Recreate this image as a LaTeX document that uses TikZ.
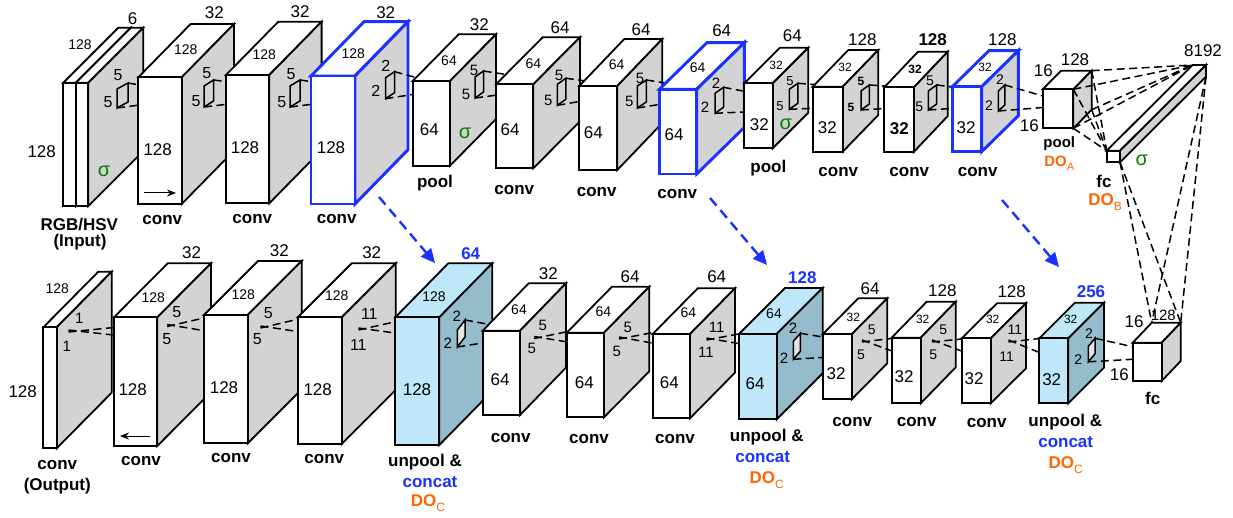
\documentclass[tikz,border=0pt]{standalone}
\usepackage{fontspec}
\setmainfont{Liberation Sans}
\usetikzlibrary{arrows.meta,calc}
\definecolor{sidegray}{RGB}{211,211,211}
\definecolor{bblue}{RGB}{25,50,255}
\definecolor{lblue}{RGB}{190,232,250}
\definecolor{dblue}{RGB}{148,188,204}
\definecolor{orng}{RGB}{255,102,0}
\definecolor{sgreen}{RGB}{0,128,0}
\definecolor{kfill}{RGB}{228,228,228}
\newcommand\myfs[1]{\fontsize{#1}{#1}\selectfont}
\newcommand\DOsub[3]{{\bfseries\myfs{#1}DO}\raisebox{-0.28em}{\myfs{#2}#3}}
\newcommand\mylab[5]{\node[#2] (#1) at (#3,#4) {#5};}
\newcommand\cubedef[7]{%
 \coordinate (#1-ftl) at (#2,#3);
 \coordinate (#1-ftr) at (#4,#3);
 \coordinate (#1-fbr) at (#4,#5);
 \coordinate (#1-fbl) at (#2,#5);
 \coordinate (#1-btl) at ($(#1-ftl)+(#6,-#7)$);
 \coordinate (#1-btr) at ($(#1-ftr)+(#6,-#7)$);
 \coordinate (#1-bbr) at ($(#1-fbr)+(#6,-#7)$);}
\newcommand\cubedraw[2]{%
 \path[#2front] (#1-ftl) -- (#1-ftr) -- (#1-btr) -- (#1-btl) -- cycle;
 \path[#2side] (#1-ftr) -- (#1-btr) -- (#1-bbr) -- (#1-fbr) -- cycle;
 \path[#2front] (#1-ftl) rectangle (#1-fbr);}
\newcommand\kpar[7]{%
 \coordinate (#1-ktr) at ({#2+#4},#3);
 \coordinate (#1-kbl) at (#2,{#3+#5+#6});
 \path[#7] (#2,{#3+#5}) -- (#1-ktr) -- ++(0,#6) -- (#1-kbl) -- cycle;}
\newcommand\kcross[5]{% name, next, offset1, offset2 ; start coordinate #1-k
 \draw[dl] ($(#1-k)+(0,1)$) -- ($(#2-ftl)+(#3)$);
 \draw[dl] ($(#1-k)+(0,-1)$) -- ($(#2-ftl)+(#4)$);}
\tikzset{
 plainfront/.style={draw=black, line width=1.8pt, fill=white, line join=miter},
 plainside/.style={draw=black, line width=1.8pt, fill=sidegray, line join=miter},
 bluefront/.style={draw=bblue, line width=2.9pt, fill=white, line join=miter},
 blueside/.style={draw=bblue, line width=2.9pt, fill=sidegray, line join=miter},
 unpfront/.style={draw=black, line width=1.8pt, fill=lblue, line join=miter},
 unpside/.style={draw=black, line width=1.8pt, fill=dblue, line join=miter},
 kp/.style={draw=black, line width=1.5pt},
 kpf/.style={draw=black, line width=1.5pt, fill=kfill},
 dl/.style={draw=black, line width=1.5pt, dash pattern=on 8pt off 4.5pt},
 barrow/.style={draw=bblue, line width=2.4pt, dash pattern=on 10pt off 6pt, -{Triangle[length=14pt,width=13pt]}},
 sarrow/.style={draw=black, line width=1pt, -{Stealth[length=9pt,width=7pt]}},
 fz/.style={font=\myfs{#1}, inner sep=0pt},
 bz/.style={font=\bfseries\myfs{#1}, inner sep=0pt},
 sig/.style={font=\myfs{20}, text=sgreen, inner sep=0pt},
}
\begin{document}
\begin{tikzpicture}[x=1pt,y=-1pt]
\useasboundingbox (0,0) rectangle (1233,518);
\fill[white] (0,0) rectangle (1233,518);
% ---------- coordinates of boxes ----------
\cubedef{T0a}{63.3}{82.7}{76}{206}{55}{55}
\cubedef{T0}{76}{82.7}{88.3}{206}{55}{55}
\cubedef{T1}{138.3}{77.3}{181.7}{204}{52.3}{53.3}
\cubedef{T2}{226}{75}{269.3}{203.3}{52.3}{53.3}
\cubedef{T3}{311}{76}{355}{204}{53}{54.3}
\cubedef{T4}{412.7}{81}{450}{165.7}{46}{46.7}
\cubedef{T5}{496}{84.3}{533.3}{168.3}{46.7}{47}
\cubedef{T6}{579.3}{86}{617.3}{170}{45}{47}
\cubedef{T7}{659.3}{89.3}{696.7}{174}{47.6}{46.6}
\cubedef{T8}{744.3}{83.3}{772.7}{148.3}{35.6}{35.6}
\cubedef{T9}{812.7}{86.7}{842.7}{151.7}{35.6}{36.7}
\cubedef{T10}{884.3}{87.3}{914}{151.7}{33.7}{35.6}
\cubedef{T11}{952.3}{86.7}{981.7}{151.7}{36.6}{36}
\cubedef{T12}{1042.7}{89.3}{1073.3}{128.3}{18.4}{18.6}
\cubedef{FCB}{1106.7}{150.7}{1120}{162.3}{86}{85.7}
\cubedef{B0}{43.3}{327.3}{56.7}{448.3}{55}{55.6}
\cubedef{B1}{114}{317.3}{157.3}{446}{53.7}{54}
\cubedef{B2}{204}{315}{247.7}{443.3}{54}{54}
\cubedef{B3}{297.7}{317.3}{341.7}{444}{54}{54}
\cubedef{B4}{395.3}{317.3}{439.3}{445}{53}{54}
\cubedef{B5}{482.7}{330.7}{520}{415}{46}{47.4}
\cubedef{B6}{566.7}{332.7}{604}{417.3}{45.3}{46}
\cubedef{B7}{652.7}{334}{690}{418.3}{45}{45.7}
\cubedef{B8}{739}{334}{776.7}{419.3}{46}{46}
\cubedef{B9}{822.7}{334.3}{851.7}{399.3}{35.6}{36}
\cubedef{B10}{891.7}{337.7}{920.7}{403.3}{35}{36}
\cubedef{B11}{961.7}{338.3}{990.7}{403.3}{35.3}{35}
\cubedef{B12}{1039.3}{338.3}{1068.3}{403.3}{35.7}{35.6}
\cubedef{B13}{1132.7}{342.7}{1161.7}{381}{19}{20}
% ---------- top row ----------
\cubedraw{T0a}{plain}
\cubedraw{T0}{plain}
\kpar{T0}{117}{83}{11}{6}{19}{kp}
\draw[dl] (T0-ktr) -- ($(T1-ftl)+(3,8)$);
\draw[dl] (T0-kbl) -- ($(T1-ftl)+(3,27.5)$);
\cubedraw{T1}{plain}
\kpar{T1}{204}{80}{9.5}{6}{21}{kp}
\draw[dl] (T1-ktr) -- ($(T2-ftl)+(3,7)$);
\draw[dl] (T1-kbl) -- ($(T2-ftl)+(3,29)$);
\cubedraw{T2}{plain}
\kpar{T2}{290}{80}{10}{6}{21}{kp}
\draw[dl] (T2-ktr) -- ($(T3-ftl)+(3,6)$);
\draw[dl] (T2-kbl) -- ($(T3-ftl)+(3,28)$);
\cubedraw{T3}{blue}
\kpar{T3}{385.5}{71.7}{9}{6}{21}{kp}
\draw[dl] (T3-ktr) -- ($(T4-ftl)+(5,-3)$);
\draw[dl] (T3-kbl) -- ($(T4-ftl)+(3,13)$);
\cubedraw{T4}{plain}
\kpar{T4}{475}{71}{8.5}{6}{21}{kp}
\draw[dl] (T4-ktr) -- ($(T5-ftl)+(12,-9.5)$);
\draw[dl] (T4-kbl) -- ($(T5-ftl)+(3,10.5)$);
\cubedraw{T5}{plain}
\kpar{T5}{557.3}{78.3}{8.5}{6}{21}{kp}
\draw[dl] (T5-ktr) -- ($(T6-ftl)+(7,-5)$);
\draw[dl] (T5-kbl) -- ($(T6-ftl)+(3,15)$);
\cubedraw{T6}{plain}
\kpar{T6}{637.3}{80}{9}{6}{22}{kp}
\draw[dl] (T6-ktr) -- ($(T7-ftl)+(8,-6)$);
\draw[dl] (T6-kbl) -- ($(T7-ftl)+(3,14.7)$);
\cubedraw{T7}{blue}
\kpar{T7}{715}{87.3}{8.5}{6}{20}{kp}
\draw[dl] (T7-ktr) -- ($(T8-ftl)+(3,8.5)$);
\draw[dl] (T7-kbl) -- ($(T8-ftl)+(3,28.5)$);
\cubedraw{T8}{plain}
\kpar{T8}{789.3}{83.3}{8.5}{6}{20}{kp}
\draw[dl] (T8-ktr) -- ($(T9-ftl)+(4,-2)$);
\draw[dl] (T8-kbl) -- ($(T9-ftl)+(3,21.5)$);
\cubedraw{T9}{plain}
\kpar{T9}{861}{85}{8.3}{6}{19}{kp}
\draw[dl] (T9-ktr) -- ($(T10-ftl)+(4,-1)$);
\draw[dl] (T9-kbl) -- ($(T10-ftl)+(3,21)$);
\cubedraw{T10}{plain}
\kpar{T10}{928.3}{85}{8.3}{6}{19}{kp}
\draw[dl] (T10-ktr) -- ($(T11-ftl)+(3,0.5)$);
\draw[dl] (T10-kbl) -- ($(T11-ftl)+(3,21.5)$);
\cubedraw{T11}{blue}
\kpar{T11}{998.3}{85}{6.5}{6}{20}{kp}
\draw[dl] (T11-ktr) -- ($(T12-ftl)+(3,7.5)$);
\draw[dl] (T11-kbl) -- ($(T12-ftl)+(3,18)$);
\cubedraw{T12}{plain}
\foreach \c in {ftr,btr,fbr,bbr}{
  \draw[dl] (T12-\c) -- (FCB-btl);
  \draw[dl] (T12-\c) -- (FCB-ftl);
}
\cubedraw{FCB}{plain}
% ---------- bottom row ----------
\coordinate (B0-k) at (68.5,331);
\coordinate (B1-k) at (167,325.5);
\coordinate (B2-k) at (260.5,327);
\coordinate (B3-k) at (358.5,329);
\coordinate (B5-k) at (534,337.5);
\coordinate (B6-k) at (619,338);
\coordinate (B7-k) at (706.5,339);
\coordinate (B9-k) at (862,341);
\coordinate (B10-k) at (932,341);
\coordinate (B11-k) at (1008.5,341);
\cubedraw{B0}{plain}
\kcross{B0}{B1}{2,10}{2,18}{}
\cubedraw{B1}{plain}
\kcross{B1}{B2}{2,2.5}{2,16}{}
\cubedraw{B2}{plain}
\kcross{B2}{B3}{2,1.5}{2,14.5}{}
\cubedraw{B3}{plain}
\kcross{B3}{B4}{2,4}{2,16}{}
\cubedraw{B4}{unp}
\kpar{B4}{457.3}{320}{7.7}{10}{17}{kpf}
\draw[dl] (B4-ktr) -- ($(B5-ftl)+(8,-6)$);
\draw[dl] (B4-kbl) -- ($(B5-ftl)+(2,12)$);
\cubedraw{B5}{plain}
\kcross{B5}{B6}{3,-1.5}{2,9.5}{}
\cubedraw{B6}{plain}
\kcross{B6}{B7}{3,-2}{2,9.5}{}
\cubedraw{B7}{plain}
\kcross{B7}{B8}{2,-0.5}{2,10}{}
\cubedraw{B8}{unp}
\kpar{B8}{793.3}{333.3}{7}{8}{18}{kpf}
\draw[dl] (B8-ktr) -- ($(B9-ftl)+(2,3)$);
\draw[dl] (B8-kbl) -- ($(B9-ftl)+(2,23)$);
\cubedraw{B9}{plain}
\kcross{B9}{B10}{2,0.5}{2,14}{}
\cubedraw{B10}{plain}
\kcross{B10}{B11}{2,0.5}{2,13.5}{}
\cubedraw{B11}{plain}
\kcross{B11}{B12}{2,0}{2,15}{}
\cubedraw{B12}{unp}
\kpar{B12}{1088.3}{338.3}{6.7}{8}{15.5}{kpf}
\draw[dl] (B12-ktr) -- ($(B13-ftl)+(2,4.5)$);
\draw[dl] (B12-kbl) -- ($(B13-ftl)+(2,16.5)$);
\cubedraw{B13}{plain}
\foreach \c in {fbr,bbr}{
  \draw[dl] (FCB-\c) -- (B13-btl);
  \draw[dl] (FCB-\c) -- (B13-btr);
}
% ---------- arrows ----------
\coordinate (a1s) at (379,197); \coordinate (a1e) at (435,263);
\coordinate (a2s) at (710,198); \coordinate (a2e) at (767,265);
\coordinate (a3s) at (1002,200); \coordinate (a3e) at (1059,267);
\draw[barrow] (a1s) -- (a1e);
\draw[barrow] (a2s) -- (a2e);
\draw[barrow] (a3s) -- (a3e);
\coordinate (r1s) at (144,193); \coordinate (r1e) at (176,193);
\coordinate (l1s) at (150,436); \coordinate (l1e) at (120,436);
\draw[sarrow] (r1s) -- (r1e);
\draw[sarrow] (l1s) -- (l1e);
% ---------- labels top ----------
\mylab{l6}{fz=17}{132.7}{18.3}{6}
\mylab{t0w}{fz=14}{80}{44.3}{128}
\mylab{t0h}{fz=17}{41.7}{151.7}{128}
\mylab{t0s}{sig}{104}{171.7}{σ}
\mylab{t0k1}{fz=16}{118}{75}{5}
\mylab{t0k2}{fz=16}{108}{102}{5}
\mylab{t0n1}{bz=17}{79.3}{224.3}{RGB/HSV}
\mylab{t0n2}{bz=17}{80}{242}{(Input)}
\mylab{t1d}{fz=17}{214.3}{12.7}{32}
\mylab{t1w}{fz=14}{185.7}{50}{128}
\mylab{t1h}{fz=17}{157.7}{149.3}{128}
\mylab{t1k1}{fz=16}{206.7}{73.3}{5}
\mylab{t1k2}{fz=16}{196}{101}{5}
\mylab{t1n}{bz=17}{162.3}{220}{conv}
\mylab{t2d}{fz=17}{300}{11.7}{32}
\mylab{t2w}{fz=14}{264.3}{54.3}{128}
\mylab{t2h}{fz=17}{245}{147.7}{128}
\mylab{t2k1}{fz=16}{291}{74}{5}
\mylab{t2k2}{fz=16}{281.7}{101.7}{5}
\mylab{t2n}{bz=17}{252.3}{219}{conv}
\mylab{t3d}{fz=17}{385.7}{12.7}{32}
\mylab{t3w}{fz=14}{353.3}{53.3}{128}
\mylab{t3h}{fz=17}{331}{148}{128}
\mylab{t3k1}{fz=16}{385.7}{66}{2}
\mylab{t3k2}{fz=16}{375.7}{91}{2}
\mylab{t3n}{bz=17}{336.7}{219}{conv}
\mylab{t4d}{fz=17}{479.3}{25}{32}
\mylab{t4w}{fz=14}{449}{60.7}{64}
\mylab{t4h}{fz=17}{429.3}{130}{64}
\mylab{t4s}{sig}{465}{133.3}{σ}
\mylab{t4k1}{fz=15}{474}{70}{5}
\mylab{t4k2}{fz=15}{466}{94.3}{5}
\mylab{t4n}{bz=17}{435}{182.7}{pool}
\mylab{t5d}{fz=17}{560}{27.3}{64}
\mylab{t5w}{fz=14}{533.3}{63.3}{64}
\mylab{t5h}{fz=17}{510}{130}{64}
\mylab{t5k1}{fz=15}{559}{75.7}{5}
\mylab{t5k2}{fz=15}{548.3}{100}{5}
\mylab{t5n}{bz=17}{514.3}{190}{conv}
\mylab{t6d}{fz=17}{641}{29.3}{64}
\mylab{t6w}{fz=14}{616.7}{65}{64}
\mylab{t6h}{fz=17}{593.3}{132.3}{64}
\mylab{t6k1}{fz=15}{640}{78.3}{5}
\mylab{t6k2}{fz=15}{629.3}{101.7}{5}
\mylab{t6n}{bz=17}{596.7}{191.7}{conv}
\mylab{t7d}{fz=17}{721.7}{31}{64}
\mylab{t7w}{fz=14}{697.7}{67.7}{64}
\mylab{t7h}{fz=17}{674}{135}{64}
\mylab{t7k1}{fz=15}{716}{83.3}{2}
\mylab{t7k2}{fz=15}{705}{107.3}{2}
\mylab{t7n}{bz=17}{677.3}{194.3}{conv}
\mylab{t8d}{fz=17}{792.3}{36}{64}
\mylab{t8w}{fz=12}{776}{65.7}{32}
\mylab{t8h}{fz=17}{759.3}{125}{32}
\mylab{t8s}{sig}{785.7}{124}{σ}
\mylab{t8k1}{fz=13}{790}{80.7}{5}
\mylab{t8k2}{fz=13}{780}{106}{5}
\mylab{t8n}{bz=17}{768.3}{168.3}{pool}
\mylab{t9d}{fz=17}{862.3}{39.3}{128}
\mylab{t9w}{fz=12}{845}{67.3}{32}
\mylab{t9h}{fz=17}{827.3}{127.3}{32}
\mylab{t9k1}{bz=12}{861}{81.7}{5}
\mylab{t9k2}{bz=12}{851}{107.3}{5}
\mylab{t9n}{bz=17}{838.3}{171.7}{conv}
\mylab{t10d}{bz=17}{932.7}{39.3}{128}
\mylab{t10w}{bz=12}{915}{69.3}{32}
\mylab{t10h}{bz=17}{899.3}{128.3}{32}
\mylab{t10k1}{fz=14}{930}{81}{5}
\mylab{t10k2}{fz=14}{919.3}{106.7}{5}
\mylab{t10n}{bz=17}{909.3}{172.3}{conv}
\mylab{t11d}{fz=17}{1002.3}{40}{128}
\mylab{t11w}{fz=12}{985}{67.7}{32}
\mylab{t11h}{fz=17}{966}{127.3}{32}
\mylab{t11k1}{fz=14}{1000}{80}{2}
\mylab{t11k2}{fz=14}{989}{106}{2}
\mylab{t11n}{bz=17}{977.7}{171.7}{conv}
\mylab{t12a}{fz=17}{1043.3}{71}{16}
\mylab{t12d}{fz=17}{1075}{59.3}{128}
\mylab{t12b}{fz=17}{1029.3}{126}{16}
\mylab{t12n}{bz=15}{1059.3}{143.3}{pool}
\mylab{t12o}{fz=15, text=orng}{1059.3}{163.3}{\DOsub{15}{11}{A}}
\mylab{fcbd}{fz=17}{1203}{51}{8192}
\mylab{fcbs}{sig}{1141.7}{160}{σ}
\mylab{fcbn}{bz=17}{1104}{181.7}{fc}
\mylab{fcbo}{fz=17, text=orng}{1105}{201.7}{\DOsub{17}{12}{B}}
% ---------- labels bottom ----------
\mylab{b0w}{fz=14}{57.3}{288.3}{128}
\mylab{b0h}{fz=17}{22.7}{391.7}{128}
\mylab{b0k1}{fz=15}{79.3}{318.3}{1}
\mylab{b0k2}{fz=15}{66.7}{346}{1}
\mylab{b0n1}{bz=17}{57.3}{465}{conv}
\mylab{b0n2}{bz=17}{57.3}{486}{(Output)}
\mylab{b1d}{fz=17}{191.7}{252.7}{32}
\mylab{b1w}{fz=14}{153.3}{297.3}{128}
\mylab{b1h}{fz=17}{132.7}{390}{128}
\mylab{b1k1}{fz=16}{176.7}{311.7}{5}
\mylab{b1k2}{fz=16}{166.7}{339.3}{5}
\mylab{b1n}{bz=17}{141}{460.7}{conv}
\mylab{b2d}{fz=17}{279.3}{251}{32}
\mylab{b2w}{fz=14}{243.3}{295}{128}
\mylab{b2h}{fz=17}{224}{387.7}{128}
\mylab{b2k1}{fz=16}{268.3}{312.7}{5}
\mylab{b2k2}{fz=16}{257.3}{339.3}{5}
\mylab{b2n}{bz=17}{231}{458.3}{conv}
\mylab{b3d}{fz=17}{371.7}{252.7}{32}
\mylab{b3w}{fz=14}{336.7}{296}{128}
\mylab{b3h}{fz=17}{317.7}{389.3}{128}
\mylab{b3k1}{fz=16}{369.3}{314}{11}
\mylab{b3k2}{fz=16}{358.3}{345}{11}
\mylab{b3n}{bz=17}{324.3}{459}{conv}
\mylab{b4d}{bz=17, text=bblue}{470.7}{254}{64}
\mylab{b4w}{fz=14}{434}{296.7}{128}
\mylab{b4h}{fz=17}{417}{390}{128}
\mylab{b4k1}{fz=15}{456.7}{316.7}{2}
\mylab{b4k2}{fz=15}{447.7}{343.3}{2}
\mylab{b4n1}{bz=17}{425}{462}{unpool \&}
\mylab{b4n2}{bz=17, text=bblue}{430}{482}{concat}
\mylab{b4n3}{fz=17, text=orng}{428}{503}{\DOsub{17}{12}{C}}
\mylab{b5d}{fz=17}{548.3}{273.3}{32}
\mylab{b5w}{fz=14}{519}{310}{64}
\mylab{b5h}{fz=17}{500}{379.3}{64}
\mylab{b5k1}{fz=15}{542.7}{325}{5}
\mylab{b5k2}{fz=15}{531.7}{348.3}{5}
\mylab{b5n}{bz=17}{510.7}{438.3}{conv}
\mylab{b6d}{fz=17}{630}{276.7}{64}
\mylab{b6w}{fz=14}{603.3}{311.7}{64}
\mylab{b6h}{fz=17}{584.3}{382.7}{64}
\mylab{b6k1}{fz=15}{627.7}{327.3}{5}
\mylab{b6k2}{fz=15}{616.7}{351.7}{5}
\mylab{b6n}{bz=17}{589}{439.3}{conv}
\mylab{b7d}{fz=17}{716.7}{276.7}{64}
\mylab{b7w}{fz=14}{688.3}{312.3}{64}
\mylab{b7h}{fz=17}{669.3}{382.7}{64}
\mylab{b7k1}{fz=15}{716.7}{327.3}{11}
\mylab{b7k2}{fz=15}{706}{352.7}{11}
\mylab{b7n}{bz=17}{675}{439.3}{conv}
\mylab{b8d}{bz=17, text=bblue}{802.3}{277.3}{128}
\mylab{b8w}{fz=14}{774}{314}{64}
\mylab{b8h}{fz=17}{755}{384}{64}
\mylab{b8k1}{fz=15}{793}{328}{2}
\mylab{b8k2}{fz=15}{784}{358.3}{2}
\mylab{b8n1}{bz=17}{766.7}{436.7}{unpool \&}
\mylab{b8n2}{bz=17, text=bblue}{762.7}{457.3}{concat}
\mylab{b8n3}{fz=17, text=orng}{766.7}{480}{\DOsub{17}{12}{C}}
\mylab{b9d}{fz=17}{870}{288.3}{64}
\mylab{b9w}{fz=12}{853.3}{317.3}{32}
\mylab{b9h}{fz=17}{836}{374}{32}
\mylab{b9k1}{fz=14}{871.7}{329.3}{5}
\mylab{b9k2}{fz=14}{861}{354.3}{5}
\mylab{b9n}{bz=17}{852.3}{421.7}{conv}
\mylab{b10d}{fz=17}{942.3}{290.7}{128}
\mylab{b10w}{fz=12}{922.7}{319}{32}
\mylab{b10h}{fz=17}{904}{376.7}{32}
\mylab{b10k1}{fz=14}{943.3}{330}{5}
\mylab{b10k2}{fz=14}{933.3}{355}{5}
\mylab{b10n}{bz=17}{916.7}{421.7}{conv}
\mylab{b11d}{fz=17}{1011.7}{291.7}{128}
\mylab{b11w}{fz=12}{992.7}{319}{32}
\mylab{b11h}{fz=17}{974}{378.3}{32}
\mylab{b11k1}{fz=14}{1015}{330}{11}
\mylab{b11k2}{fz=14}{1006.7}{356.7}{11}
\mylab{b11n}{bz=17}{986.7}{422.7}{conv}
\mylab{b12d}{bz=17, text=bblue}{1091}{291.7}{256}
\mylab{b12w}{fz=12}{1070.7}{319}{32}
\mylab{b12h}{fz=17}{1051.7}{379.3}{32}
\mylab{b12k1}{fz=14}{1089}{333.5}{2}
\mylab{b12k2}{fz=14}{1078.3}{359.3}{2}
\mylab{b12n1}{bz=17}{1065.3}{421.7}{unpool \&}
\mylab{b12n2}{bz=17, text=bblue}{1065.7}{442.3}{concat}
\mylab{b12n3}{fz=17, text=orng}{1065.7}{465}{\DOsub{17}{12}{C}}
\mylab{b13a}{fz=17}{1134}{321.7}{16}
\mylab{b13d}{fz=15}{1163.3}{315}{128}
\mylab{b13b}{fz=17}{1119.3}{375}{16}
\mylab{b13n}{bz=17}{1152.7}{398.3}{fc}
\end{tikzpicture}
\end{document}
